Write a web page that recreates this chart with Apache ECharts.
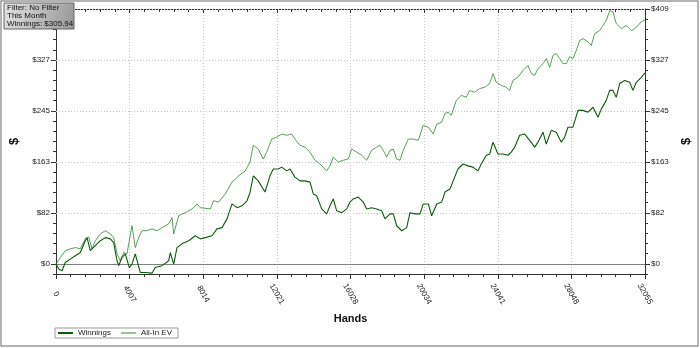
<!DOCTYPE html>
<html><head><meta charset="utf-8">
<script src="https://cdn.jsdelivr.net/npm/echarts@6/dist/echarts.min.js"></script>
<style>html,body{margin:0;padding:0;background:#fff}#c{width:700px;height:348px}</style>
</head><body><div id="c"></div>
<script>
const winHands = [0,147,327,506,778,1050,1322,1594,1687,1867,2139,2411,2683,2955,3140,3320,3412,3592,3771,3989,4136,4315,4588,4860,5224,5404,5769,6133,6220,6405,6585,6857,7222,7581,7853,8125,8490,8762,9034,9306,9578,9850,10122,10394,10557,10737,11009,11374,11646,11825,12098,12283,12555,12734,13006,13278,13551,13823,14002,14187,14459,14731,14911,15091,15276,15548,15820,16000,16179,16451,16723,16908,17180,17452,17724,17904,18176,18356,18541,18813,19085,19265,19537,19809,19988,20261,20446,20718,20990,21169,21441,21697,21877,22149,22421,22693,22965,23145,23417,23602,23782,24054,24326,24598,24777,24963,25235,25507,25779,26051,26230,26503,26682,26954,27227,27499,27684,27863,28135,28407,28679,28951,29224,29496,29675,29947,30132,30312,30492,30677,30949,31221,31400,31580,31852,32055];
const winValues = [0,-8.5,-11,2,7.5,13,18,37,42,21,29,37,42,40,34,5,-3,10,16,-6,-0.5,16,-14,-14,-15,-6,-3,5,18,-0.5,26,32,37,45,40,42,45,56,58,72,96,90,93,101,114,141,133,115,141,152,152,155,149,152,139,133,133,131,112,109,88,80,93,104,85,82,88,99,104,107,99,88,90,88,85,72,80,80,61,53,58,82,80,80,96,96,77,96,99,115,120,139,152,160,157,155,149,160,174,176,195,176,176,174,179,187,206,208,198,187,195,211,192,214,211,195,203,219,219,246,246,243,251,235,248,262,278,278,267,289,294,291,278,291,299,305.94];
const evHands = [0,234,506,778,1050,1322,1594,1780,1959,2139,2411,2683,2955,3140,3320,3499,3684,3864,3989,4136,4228,4315,4501,4680,4952,5224,5496,5769,6133,6313,6405,6677,7036,7401,7673,7853,8125,8397,8582,8854,9213,9578,9942,10302,10557,10737,11009,11281,11466,11738,12010,12283,12555,12827,13006,13278,13551,13823,14095,14367,14731,14911,15091,15363,15635,15907,16092,16364,16636,16908,17180,17452,17632,17812,17997,18176,18356,18541,18720,18900,19172,19444,19716,19988,20261,20533,20718,20990,21169,21349,21512,21784,22056,22329,22514,22786,23058,23330,23602,23782,23961,24233,24505,24690,24870,25142,25414,25686,25866,26051,26230,26503,26682,26867,27047,27227,27411,27591,27771,27956,28135,28315,28500,28679,28951,29131,29316,29588,29768,29947,30132,30312,30492,30764,31036,31308,31493,31672,31852,32055];
const evValues = [0,10,21,24,26,24,40,43,24,37,48,53,48,42,16,5,18,16,37,61,61,26,42,53,53,56,53,58,64,74,48,77,82,88,96,90,89,88,101,99,112,131,141,149,163,190,184,168,179,200,203,208,206,208,200,190,187,179,166,160,149,157,171,163,166,168,184,179,174,166,182,187,190,182,171,182,184,168,166,182,200,200,198,222,219,208,224,227,241,243,238,262,270,267,278,275,281,283,289,305,291,286,283,278,294,299,310,318,305,302,313,321,329,315,334,337,329,321,321,332,329,342,358,361,356,350,369,374,382,390,406,404,385,377,382,374,377,382,388,391];
const xTickValues = [0,4006.875,8013.75,12020.625,16027.5,20034.375,24041.25,28048.125,32055];
const xTickLabels = ['0','4007','8014','12021','16028','20034','24041','28048','32055'];
const yTickValues = [0,81.7,163.4,245.1,326.8,408.5];
const yTickLabels = ['$0','$82','$163','$245','$327','$409'];
const infoLines = ['Filter: No Filter','This Month','Winnings: $305.94'];
const seriesNames = ['Winnings','All-In EV'];

function findLabel(vals, labels, v, tol){
  for (let i=0;i<vals.length;i++){ if (Math.abs(vals[i]-v)<tol) return labels[i]; }
  return '';
}
const winData = winHands.map((h,i)=>[h,winValues[i]]);
const evData = evHands.map((h,i)=>[h,evValues[i]]);
const yMin = -yTickValues[1]/5, yMax = yTickValues[yTickValues.length-1], yStep = yTickValues[1]/5;
const xMax = xTickValues[xTickValues.length-1], xStep = xTickValues[1];
const axisCol = '#333';
const font = 'Liberation Sans, Arial, sans-serif';
const winColor = '#0d5a0d', evColor = '#2f862f';

const yBase = (pos, gap) => ({
  type:'value', position:pos, min:yMin, max:yMax, interval:yStep,
  axisLine:{show:true,onZero:false,lineStyle:{color:axisCol}},
  axisTick:{show:true,length:3,lineStyle:{color:axisCol}},
  axisLabel:{show:true,fontSize:8,color:'#222',margin:6,formatter:v=>findLabel(yTickValues,yTickLabels,v,0.5)},
  splitLine:{show:false},
  name:'$', nameLocation:'middle', nameGap:gap,
  nameTextStyle:{fontSize:13,fontWeight:'bold',color:'#111'}
});

const chart = echarts.init(document.getElementById('c'), null, {renderer:'canvas'});
chart.setOption({
  animation:false,
  backgroundColor:'#fff',
  textStyle:{fontFamily:font},
  grid:{left:56,right:55,top:9,bottom:74,containLabel:false,outerBoundsMode:'none'},
  legend:{
    data:[
      {name:seriesNames[0], icon:'path://M0,0L15,0L15,2L0,2Z'},
      {name:seriesNames[1], icon:'path://M0,0L15,0L15,1L0,1Z'}
    ],
    symbolKeepAspect:true,
    left:55, top:328, orient:'horizontal',
    borderColor:'#999', borderWidth:1, padding:[1,6,1,3], itemGap:10,
    itemWidth:15, itemHeight:8, textStyle:{fontSize:8,color:'#222'}
  },
  xAxis:[
    {type:'value', position:'bottom', min:0, max:xMax, interval:xStep,
     axisLine:{show:true,onZero:false,lineStyle:{color:axisCol}},
     axisTick:{show:true,length:5,lineStyle:{color:axisCol}},
     minorTick:{show:true,splitNumber:5,length:3,lineStyle:{color:axisCol}},
     axisLabel:{rotate:-60,align:'center',verticalAlign:'middle',fontSize:8,color:'#222',margin:20,
       showMinLabel:true,showMaxLabel:true,
       formatter:v=>findLabel(xTickValues,xTickLabels,v,1)},
     splitLine:{show:true,lineStyle:{color:'#c4c4c4',type:[1,2],width:1}},
     name:'Hands', nameLocation:'middle', nameGap:39,
     nameTextStyle:{fontSize:11,fontWeight:'bold',color:'#111'}},
    {type:'value', position:'top', min:0, max:xMax, interval:xStep,
     axisLine:{show:true,onZero:false,lineStyle:{color:axisCol}},
     axisTick:{show:true,inside:true,length:4,lineStyle:{color:axisCol}},
     minorTick:{show:true,splitNumber:5,length:3,lineStyle:{color:axisCol}},
     axisLabel:{show:false}, splitLine:{show:false}}
  ],
  yAxis:[ yBase('left',35), yBase('right',34),
    {type:'value', position:'left', min:yMin, max:yMax,
     axisLine:{show:false,onZero:false}, axisLabel:{show:false}, splitLine:{show:false},
     axisTick:{show:true,length:5,customValues:yTickValues,lineStyle:{color:axisCol}}},
    {type:'value', position:'right', min:yMin, max:yMax,
     axisLine:{show:false,onZero:false}, axisLabel:{show:false}, splitLine:{show:false},
     axisTick:{show:true,length:5,customValues:yTickValues,lineStyle:{color:axisCol}}}
  ],
  series:[
    {name:seriesNames[1], type:'line', xAxisIndex:0, yAxisIndex:0, data:evData, symbol:'none',
     lineStyle:{width:0.8,color:evColor}, itemStyle:{color:evColor}, z:3,
     markLine:{silent:true, symbol:'none', label:{show:false}, z:1,
       data: yTickValues.map(v=>({yAxis:v, lineStyle: v===0 ? {color:'#808080',type:'solid',width:1} : {color:'#c4c4c4',type:[1,2],width:1}}))}},
    {name:seriesNames[0], type:'line', xAxisIndex:0, yAxisIndex:0, data:winData, symbol:'none',
     lineStyle:{width:1.1,color:winColor}, itemStyle:{color:winColor}, z:4}
  ],
  graphic:[
    {type:'rect', shape:{x:1,y:1,width:697,height:345}, style:{fill:'none',stroke:'#9a9a9a',lineWidth:1.5}, z:100},
    {type:'rect', shape:{x:4,y:3,width:70,height:26}, z:101,
     style:{stroke:'#666',lineWidth:1,
       fill:new echarts.graphic.LinearGradient(0,0,1,1,[{offset:0,color:'#e4e4e4'},{offset:1,color:'#959595'}])}},
    ...infoLines.map((t,i)=>({type:'text', x:7, y:4+i*8, z:102,
       style:{text:t, fill:'#111', font:'8px '+font, textVerticalAlign:'top'}}))
  ]
});
</script></body></html>
